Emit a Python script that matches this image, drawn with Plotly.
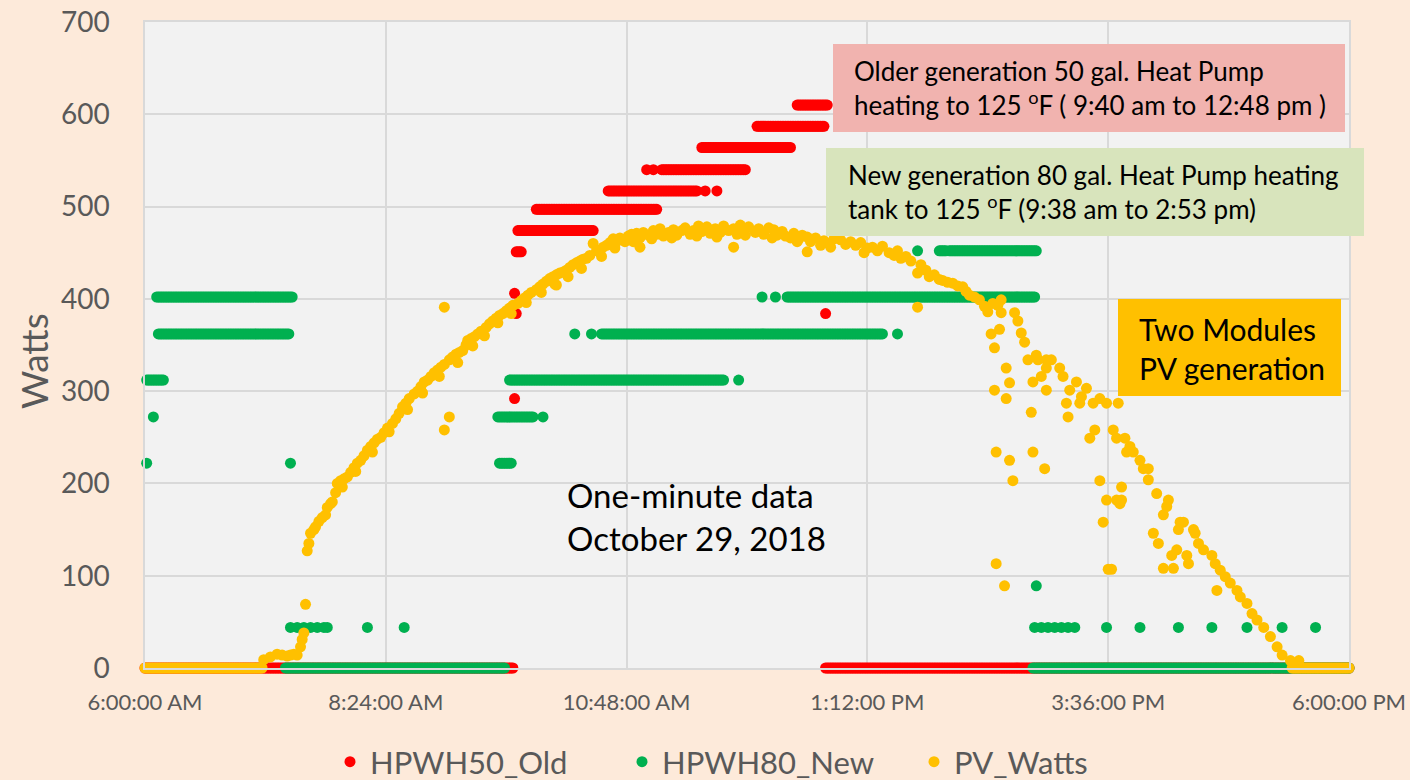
import plotly.graph_objects as go

# ---------------- data (minutes after midnight, watts) ----------------
tick_minutes = [360, 504, 648, 792, 936, 1080]
tick_labels = ["6:00:00 AM", "8:24:00 AM", "10:48:00 AM", "1:12:00 PM", "3:36:00 PM", "6:00:00 PM"]
y_ticks = [0, 100, 200, 300, 400, 500, 600, 700]

# HPWH50_Old: runs of identical one-minute readings (start minute, end minute, watts)
old_run_start = [360, 581, 581, 582, 582, 583, 594, 637, 695, 702, 660, 664, 669, 693, 726, 750, 767, 767]
old_run_end   = [580, 581, 581, 582, 585, 628, 666, 690, 695, 702, 660, 664, 719, 746, 766, 768, 767, 1080]
old_run_watts = [0, 292, 406, 384, 451, 474, 497, 517, 517, 517, 540, 540, 540, 564, 587, 610, 384, 0]

# HPWH80_New: runs of identical one-minute readings
new_run_start = [361, 365, 361, 368, 367, 447, 444, 572, 571, 598, 578, 715, 617, 627, 633, 810,
                 729, 737, 744, 822, 835, 841, 893, 891]
new_run_end   = [361, 365, 371, 446, 448, 447, 575, 579, 592, 598, 706, 715, 617, 627, 801, 810,
                 729, 737, 892, 822, 839, 893, 893, 1080]
new_run_watts = [222, 272, 312, 362, 402, 222, 0, 222, 272, 272, 312, 312, 362, 362, 362, 362,
                 402, 402, 402, 452, 452, 452, 89, 0]
# HPWH80_New isolated fan-only readings
new_fan_minutes = [447, 451, 455, 459, 463, 467, 469, 493, 515,
                   892, 896, 900, 904, 908, 912, 916, 935, 955, 978, 998, 1019, 1040, 1060]
new_fan_watts = [44, 44, 44, 44, 44, 44, 44, 44, 44,
                 44, 44, 44, 44, 44, 44, 44, 44, 44, 44, 44, 44, 44, 44]

# PV_Watts: night-time zero runs
pv_run_start = [360, 1046]
pv_run_end = [430, 1080]
pv_run_watts = [0, 0]

# PV_Watts main readings
pv_minutes = [431, 435, 439, 442, 445, 447, 449, 451, 453, 454, 455, 456, 457, 458, 459, 461, 462, 464,
              466, 468, 469, 471, 472, 474, 475, 477, 479, 481, 483, 485, 487, 489, 491, 493, 495, 497,
              499, 501, 503, 505, 508, 510, 512, 514, 516, 518, 521, 523, 525, 527, 529, 531, 533, 535,
              537, 539, 542, 544, 546, 548, 550, 552, 553, 555, 557, 559, 561, 564, 566, 568, 570, 572,
              574, 576, 578, 580, 583, 585, 587, 589, 591, 594, 596, 598, 600, 602, 604, 606, 608, 610,
              612, 614, 616, 618, 620, 622, 624, 626, 628, 630, 632, 634, 636, 638, 640, 642, 644, 647,
              649, 651, 654, 656, 658, 661, 664, 666, 668, 670, 673, 676, 678, 681, 683, 686, 688, 691,
              693, 696, 698, 701, 704, 706, 709, 712, 714, 716, 718, 721, 725, 727, 730, 733, 736, 738,
              741, 743, 746, 748, 751, 753, 756, 758, 761, 764, 766, 769, 772, 776, 779, 782, 785, 788,
              792, 795, 798, 801, 805, 808, 810, 812, 815, 818, 822, 824, 827, 829, 832, 835, 837, 840,
              843, 846, 849, 851, 853, 856, 859, 862, 864, 867, 870, 872, 872, 880, 882, 884, 886, 888,
              891, 893, 894, 896, 899, 899, 899, 902, 907, 909, 911, 913, 917, 919, 920, 923, 927, 931,
              935, 939, 941, 942, 946, 947, 949, 951, 955, 957, 960, 960, 965, 969, 971, 972, 978, 979,
              981, 987, 988, 990, 993, 998, 1000, 1003, 1006, 1009, 1013, 1015, 1019, 1022, 1025, 1029,
              1033, 1037, 1040, 1045, 1050]
pv_watts = [9, 12, 15, 14, 13, 14, 15, 14, 23, 31, 38, 69, 127, 135, 146, 150, 153, 159,
            163, 166, 174, 178, 180, 190, 200, 203, 205, 207, 212, 217, 222, 225, 230, 236, 240, 244,
            248, 250, 255, 260, 265, 270, 276, 283, 287, 292, 297, 300, 305, 310, 312, 316, 320, 323,
            326, 329, 334, 337, 340, 342, 344, 350, 355, 357, 359, 362, 365, 369, 373, 376, 379, 382,
            384, 387, 390, 393, 395, 398, 401, 404, 407, 410, 413, 416, 419, 422, 424, 426, 428, 429,
            431, 434, 437, 439, 441, 443, 444, 447, 460, 452, 451, 456, 458, 461, 465, 462, 466, 462,
            468, 470, 471, 466, 472, 469, 474, 470, 476, 468, 472, 475, 469, 474, 477, 470, 474, 479,
            473, 478, 471, 476, 472, 479, 474, 476, 470, 480, 474, 478, 472, 476, 470, 477, 475, 469,
            473, 468, 466, 471, 465, 469, 467, 462, 466, 458, 463, 460, 465, 464, 459, 462, 458, 461,
            455, 456, 452, 457, 450, 447, 452, 444, 446, 441, 428, 437, 431, 424, 426, 421, 420, 418,
            417, 414, 413, 408, 404, 402, 399, 392, 386, 395, 393, 399, 385, 385, 376, 363, 353, 334,
            310, 339, 334, 316, 334, 325, 301, 334, 325, 316, 287, 301, 310, 287, 294, 303, 287, 292,
            287, 258, 249, 287, 249, 234, 240, 234, 225, 216, 216, 204, 189, 166, 175, 182, 150, 158,
            158, 150, 146, 135, 128, 122, 113, 106, 99, 92, 84, 77, 70, 59, 52, 44,
            34, 23, 14, 8, 8]

# PV_Watts readings on the lower edge of the morning band
pv_band_minutes = [478, 486, 496, 506, 517, 526, 536, 547, 556, 563, 571, 579, 588, 597, 605, 613, 621,
                   633, 641, 652, 663, 675, 690, 702, 719, 735, 750, 770, 790]
pv_band_watts = [196, 213, 234, 256, 280, 298, 316, 331, 349, 360, 374, 384, 396, 407, 416, 424, 433,
                 446, 455, 462, 465, 466, 468, 467, 469, 466, 462, 456, 450]

# PV_Watts scattered (cloud-affected) readings
pv_scatter_minutes = [539, 542, 539, 606, 656, 712, 756, 822, 866, 871, 868, 875, 877, 868, 875, 890,
                      912, 928, 925, 869, 877, 879, 891, 898, 869, 874, 931, 944, 935, 941, 944, 943,
                      933, 936, 938, 963, 966, 974, 977, 969, 975, 983, 984, 1001]
pv_scatter_watts = [391, 272, 258, 415, 456, 456, 451, 391, 362, 367, 347, 325, 309, 301, 292, 277,
                    272, 258, 249, 234, 225, 203, 234, 216, 113, 89, 203, 196, 182, 182, 182, 178,
                    158, 107, 107, 146, 135, 122, 128, 108, 108, 122, 113, 84]


def expand_runs(starts, ends, watts):
    xs, ys = [], []
    for s, e, w in zip(starts, ends, watts):
        for m in range(s, e + 1):
            xs.append(m)
            ys.append(w)
    return xs, ys


old_x, old_y = expand_runs(old_run_start, old_run_end, old_run_watts)
new_x, new_y = expand_runs(new_run_start, new_run_end, new_run_watts)
new_x += new_fan_minutes
new_y += new_fan_watts
pv_x, pv_y = expand_runs(pv_run_start, pv_run_end, pv_run_watts)
pv_x += pv_minutes + pv_band_minutes + pv_scatter_minutes
pv_y += pv_watts + pv_band_watts + pv_scatter_watts

FONT = "Lato"
GRAY = "#595959"
MS = 11

fig = go.Figure()
fig.add_trace(go.Scatter(x=old_x, y=old_y, mode="markers", name="HPWH50_Old",
                         marker=dict(color="#FF0000", size=MS), cliponaxis=False))
fig.add_trace(go.Scatter(x=new_x, y=new_y, mode="markers", name="HPWH80_New",
                         marker=dict(color="#00B050", size=MS), cliponaxis=False))
fig.add_trace(go.Scatter(x=pv_x, y=pv_y, mode="markers", name="PV_Watts",
                         marker=dict(color="#FFC000", size=MS), cliponaxis=False))

W, H = 1410, 780
L, R, T, B = 145, 61, 22, 112
PW, PH = W - L - R, H - T - B


def px(x):
    return (x - L) / PW


def py(y):
    return (H - B - y) / PH


shapes = [
    dict(type="rect", xref="paper", yref="paper", x0=px(833), x1=px(1345), y0=py(132), y1=py(44),
         fillcolor="#F1B3AF", line=dict(width=0), layer="above"),
    dict(type="rect", xref="paper", yref="paper", x0=px(826), x1=px(1364), y0=py(236), y1=py(148),
         fillcolor="#D8E4BC", line=dict(width=0), layer="above"),
    dict(type="rect", xref="paper", yref="paper", x0=px(1118), x1=px(1341), y0=py(396), y1=py(299),
         fillcolor="#FFC000", line=dict(width=0), layer="above"),
]

annotations = [
    dict(xref="paper", yref="paper", x=px(852), y=py(88), xanchor="left", yanchor="middle", align="left",
         showarrow=False, font=dict(family=FONT, size=26, color="black"),
         text="Older generation 50 gal. Heat Pump<br>heating to 125 <sup>o</sup>F ( 9:40 am to 12:48 pm )"),
    dict(xref="paper", yref="paper", x=px(846), y=py(192), xanchor="left", yanchor="middle", align="left",
         showarrow=False, font=dict(family=FONT, size=26, color="black"),
         text="New generation 80 gal. Heat Pump heating<br>tank to 125 <sup>o</sup>F (9:38 am to 2:53 pm)"),
    dict(xref="paper", yref="paper", x=px(1137), y=py(348), xanchor="left", yanchor="middle", align="left",
         showarrow=False, font=dict(family=FONT, size=30, color="black"),
         text="Two Modules<br>PV generation"),
    dict(xref="paper", yref="paper", x=px(565), y=py(516), xanchor="left", yanchor="middle", align="left",
         showarrow=False, font=dict(family=FONT, size=33, color="black"),
         text="One-minute data<br>October 29, 2018"),
    dict(xref="paper", yref="paper", x=px(33), y=py(361), xanchor="center", yanchor="middle",
         showarrow=False, textangle=-90, font=dict(family=FONT, size=37, color=GRAY), text="Watts"),
]

fig.update_layout(
    width=W, height=H,
    margin=dict(l=L, r=R, t=T, b=B, pad=0, autoexpand=False),
    paper_bgcolor="#FDEADA",
    plot_bgcolor="#F2F2F2",
    font=dict(family=FONT, color=GRAY),
    showlegend=True,
    legend=dict(orientation="h", x=px(768), xanchor="center", y=py(762), yanchor="middle",
                font=dict(family=FONT, size=31, color=GRAY), bgcolor="rgba(0,0,0,0)",
                entrywidth=247, entrywidthmode="pixels"),
    shapes=shapes,
    annotations=annotations,
    xaxis=dict(range=[tick_minutes[0], tick_minutes[-1]], tickmode="array", tickvals=tick_minutes,
               ticktext=tick_labels, showgrid=True, gridcolor="#D9D9D9", gridwidth=1.5,
               showline=True, linecolor="#D9D9D9", linewidth=1.5, mirror=True, zeroline=False,
               ticks="outside", ticklen=14, tickcolor="rgba(0,0,0,0)", automargin=False,
               tickfont=dict(family=FONT, size=22, color=GRAY)),
    yaxis=dict(range=[y_ticks[0], y_ticks[-1]], tickmode="array", tickvals=y_ticks,
               showgrid=True, gridcolor="#D9D9D9", gridwidth=1.5,
               showline=True, linecolor="#D9D9D9", linewidth=1.5, mirror=True, zeroline=False,
               ticks="outside", ticklen=28, tickcolor="rgba(0,0,0,0)", automargin=False,
               tickfont=dict(family=FONT, size=28, color=GRAY)),
)

fig.write_html("out.html", config={"displayModeBar": False},
               post_script="document.body.style.margin='0';document.body.style.overflow='hidden';")
